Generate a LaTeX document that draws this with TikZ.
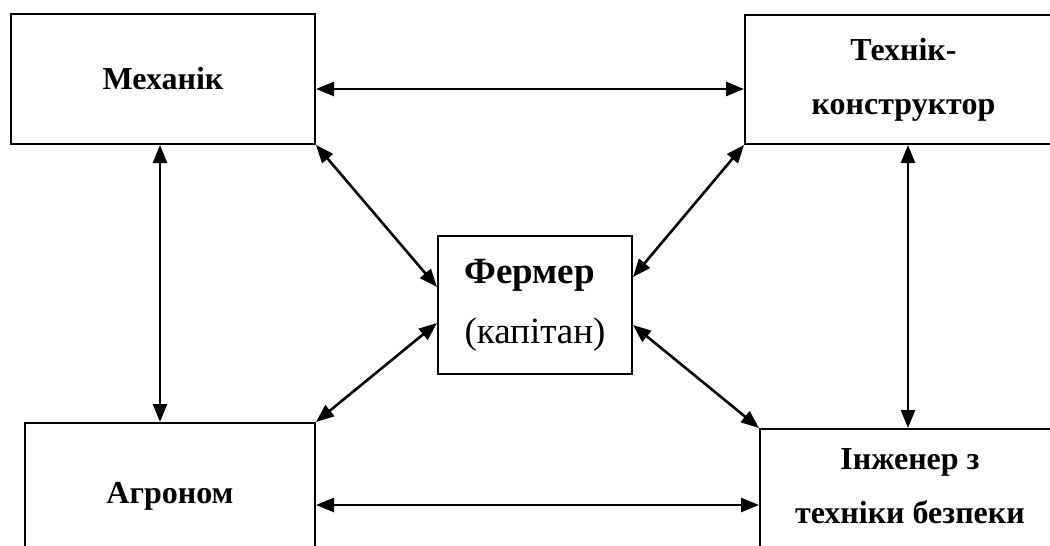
\documentclass[tikz,border=0pt]{standalone}
\usepackage{fontspec}
\setmainfont{Liberation Serif}
\usetikzlibrary{arrows.meta}
\tikzset{
  box/.style={draw, line width=2pt, rectangle, align=center, inner sep=0pt},
  lbl/.style={font=\bfseries\fontsize{32}{54}\selectfont},
  link/.style={{Triangle[length=18pt,width=14pt]}-{Triangle[length=18pt,width=14pt]}, line width=2.6pt},
}
\begin{document}
\begin{tikzpicture}[x=1pt,y=-1pt]
\clip (0,0) rectangle (1050,546);
\node[box, lbl, minimum width=304pt, minimum height=130pt] (mech) at (163,79) {Механік};
\node[box, lbl, minimum width=317pt, minimum height=129pt] (tech) at (903.5,79.5) {Технік-\\конструктор};
\node[box, lbl, minimum width=290pt, minimum height=146pt] (agro) at (170,496) {Агроном};
\node[box, minimum width=300pt, minimum height=171pt] (eng) at (910,514.5) {};
\node[lbl, align=center, inner sep=0pt] (engtxt) at (910,486) {Інженер з\\техніки безпеки};
\node[box, align=left, font=\fontsize{37}{60}\selectfont, minimum width=194pt, minimum height=138pt] (ferm) at (535,305) {\textbf{Фермер}\\(капітан)};
\draw[link] ([yshift=-10pt]mech.east) -- ([yshift=-10pt]mech.east -| tech.west);
\draw[link] ([yshift=-9pt]agro.east) -- ([yshift=-9pt]agro.east -| eng.west);
\draw[link] ([xshift=-3pt]mech.south) -- ([xshift=-3pt]mech.south |- agro.north);
\draw[link] ([xshift=-2pt]eng.north |- tech.south) -- ([xshift=-2pt]eng.north);
\draw[link] (mech.south east) -- ([yshift=18pt]ferm.west);
\draw[link] (agro.north east) -- ([yshift=-18pt]ferm.west);
\draw[link] (tech.south west) -- ([yshift=28pt]ferm.east);
\draw[link] (eng.north west) -- ([yshift=-20pt]ferm.east);
\end{tikzpicture}
\end{document}
